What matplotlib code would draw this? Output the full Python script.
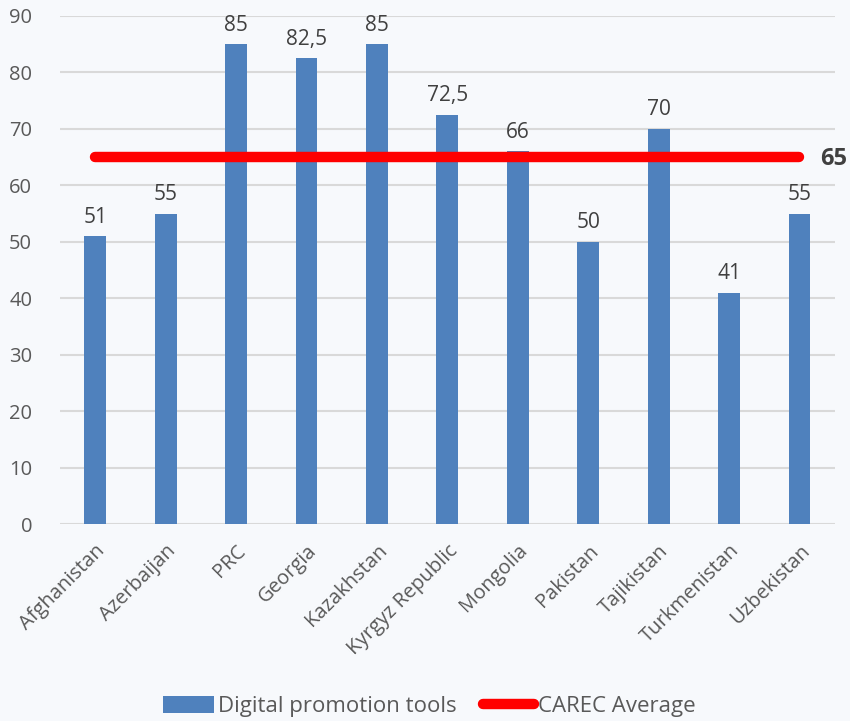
import matplotlib
matplotlib.use('Agg')
import matplotlib.pyplot as plt
from matplotlib.patches import Patch
from matplotlib.lines import Line2D

plt.rcParams['font.family'] = ['Open Sans', 'DejaVu Sans']

# data
countries = ['Afghanistan', 'Azerbaijan', 'PRC', 'Georgia', 'Kazakhstan',
             'Kyrgyz Republic', 'Mongolia', 'Pakistan', 'Tajikistan',
             'Turkmenistan', 'Uzbekistan']
scores = [51, 55, 85, 82.5, 85, 72.5, 66, 50, 70, 41, 55]
carec_avg = 65

bg = '#F7F9FC'
blue = '#4F81BD'
txt = '#595959'

fig = plt.figure(figsize=(8.5, 7.21), dpi=100, facecolor=bg)
ax = fig.add_axes([0.0706, 0.273, 0.9114, 0.705], facecolor=bg)

x = list(range(len(countries)))
ax.bar(x, scores, width=0.31, color=blue, zorder=2)

#data labels, comma as decimal separator
for xi, v in zip(x, scores):
	lab = ('%g' % v).replace('.', ',')
	ax.text(xi, v + 1.5, lab, ha='center', va='bottom', fontsize=15, color='#404040')

#average line
ax.plot([x[0], x[-1]], [carec_avg, carec_avg], color='#FF0000', linewidth=7.5,
        solid_capstyle='round', zorder=3)
ax.text(x[-1] + 0.3, carec_avg - 0.4, str(carec_avg), ha='left', va='center',
        fontsize=17, fontweight='bold', color='#404040')

ax.set_xlim(-0.5, 10.5)
ax.set_ylim(0, 90)
ax.set_yticks(range(0, 91, 10))
ax.yaxis.grid(True, color='#D9D9D9', linewidth=1.5, zorder=0)
ax.set_axisbelow(True)
for s in ['top', 'right', 'left', 'bottom']:
	ax.spines[s].set_visible(False)
ax.tick_params(axis='both', length=0, labelsize=14.5, colors=txt)
ax.tick_params(axis='y', pad=20)
ax.set_xticks(x)
ax.set_xticklabels(countries, rotation=45, ha='right', rotation_mode='anchor')
ax.tick_params(axis='x', pad=12)

handles = [Patch(facecolor=blue, label='Digital promotion tools'),
           Line2D([0], [0], color='#FF0000', linewidth=7.5, solid_capstyle='round', label='CAREC Average')]
leg = fig.legend(handles=handles, loc='lower center', bbox_to_anchor=(0.505, -0.022), ncol=2,
                 frameon=False, fontsize=16, handlelength=2.3, handleheight=0.8,
                 columnspacing=1.2, handletextpad=0.15)
for t in leg.get_texts():
	t.set_color(txt)

fig.savefig('out.png', dpi=100, facecolor=bg)
